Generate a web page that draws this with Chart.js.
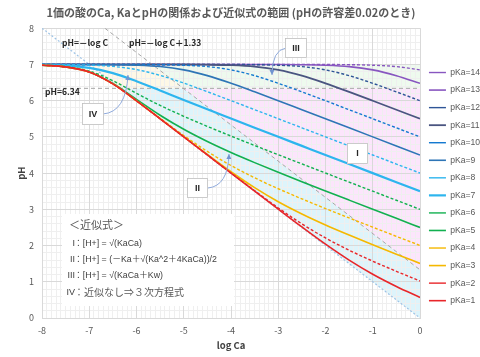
<!DOCTYPE html>
<html><head><meta charset="utf-8">
<script src="https://cdn.jsdelivr.net/npm/chart.js@4.4.1/dist/chart.umd.min.js"></script>
<style>html,body{margin:0;padding:0;background:#fff;}#wrap{width:480px;height:357px;position:relative;}</style>
</head><body><div id="wrap"><canvas id="c"></canvas></div>
<script>
// ---- data ----
const logCa = [-8,-7.5,-7,-6.5,-6,-5.5,-5,-4.5,-4,-3.5,-3,-2.5,-2,-1.5,-1,-0.5,0];
const pKa1  = [6.978,6.932,6.791,6.462,5.996,5.499,5.000,4.500,4.000,3.501,3.004,2.513,2.038,1.598,1.209,0.871,0.568];
const pKa2  = [6.978,6.932,6.791,6.462,5.996,5.500,5.000,4.501,4.004,3.513,3.038,2.598,2.209,1.871,1.568,1.289,1.022];
const pKa3  = [6.978,6.932,6.791,6.462,5.996,5.501,5.004,4.513,4.038,3.598,3.209,2.871,2.568,2.289,2.022,1.762,1.507];
const pKa4  = [6.978,6.932,6.791,6.463,6.000,5.512,5.038,4.598,4.209,3.871,3.568,3.289,3.022,2.762,2.507,2.254,2.002];
const pKa5  = [6.978,6.932,6.794,6.474,6.033,5.597,5.209,4.871,4.568,4.289,4.022,3.762,3.507,3.254,3.002,2.751,2.499];
const pKa6  = [6.980,6.939,6.817,6.550,6.201,5.869,5.568,5.289,5.022,4.762,4.507,4.254,4.002,3.751,3.500,3.250,3.000];
const pKa7  = [6.989,6.967,6.904,6.761,6.537,6.280,6.019,5.761,5.507,5.254,5.002,4.751,4.500,4.250,4.000,3.750,3.500];
const pKa8  = [6.998,6.994,6.981,6.945,6.857,6.698,6.485,6.247,6.000,5.751,5.501,5.250,5.000,4.750,4.500,4.250,4.000];
const pKa9  = [7.000,6.999,6.998,6.993,6.979,6.941,6.850,6.691,6.480,6.244,6.000,5.749,5.500,5.250,5.000,4.750,4.500];
const pKa10 = [7.000,7.000,7.000,6.999,6.998,6.993,6.979,6.940,6.849,6.690,6.479,6.243,5.998,5.749,5.500,5.250,5.000];
const pKa11 = [7.000,7.000,7.000,7.000,7.000,6.999,6.998,6.993,6.979,6.940,6.849,6.690,6.479,6.243,5.998,5.749,5.500];
const pKa12 = [7.000,7.000,7.000,7.000,7.000,7.000,7.000,6.999,6.998,6.993,6.979,6.940,6.849,6.690,6.479,6.243,5.998];
const pKa13 = [7.000,7.000,7.000,7.000,7.000,7.000,7.000,7.000,7.000,6.999,6.998,6.993,6.979,6.940,6.849,6.690,6.479];
const pKa14 = [7.000,7.000,7.000,7.000,7.000,7.000,7.000,7.000,7.000,7.000,7.000,6.999,6.998,6.993,6.979,6.940,6.849];
const seriesLabels = ['pKa=1','pKa=2','pKa=3','pKa=4','pKa=5','pKa=6','pKa=7','pKa=8','pKa=9','pKa=10','pKa=11','pKa=12','pKa=13','pKa=14'];
const seriesValues = [pKa1,pKa2,pKa3,pKa4,pKa5,pKa6,pKa7,pKa8,pKa9,pKa10,pKa11,pKa12,pKa13,pKa14];

// reference lines
const lineNegLogC_x = [-8, 0];     const lineNegLogC_y = [8, 0];
const lineShift_x   = [-6.67, 0];  const lineShift_y   = [8, 1.33];
const lineWater_x   = [-8, 0];     const lineWater_y   = [6.34, 6.34];

// region vertices (logCa, pH)
const regionI_x   = [-5.01, 0, 0];              const regionI_y   = [6.34, 6.34, 1.33];
const regionII_x  = [-6.34, -5.01, 0, 0];       const regionII_y  = [6.34, 6.34, 1.33, 0];
const regionIII_x = [-5.67, 0, 0, -5.01];       const regionIII_y = [7, 7, 6.34, 6.34];
const regionIV_x  = [-7, -5.67, -5.01, -6.34];  const regionIV_y  = [7, 7, 6.34, 6.34];

const xTicks = [-8,-7,-6,-5,-4,-3,-2,-1,0];
const yTicks = [0,1,2,3,4,5,6,7,8];

// ---- styles ----
const FONT = '"Noto Sans CJK JP", "Noto Sans", sans-serif';
const LFONT = '"Liberation Sans", "Noto Sans CJK JP", sans-serif';
const colors = ['#E8262A','#E8262A','#F5B800','#F5B800','#12B050','#12B050','#2DB5EE','#2DB5EE','#2E75B6','#1479D0','#4A5580','#2F5597','#8856C0','#8856C0'];
const dashed = [false,true,false,true,false,true,false,true,false,true,false,true,false,true];
const widths = [1.6,1.4,1.6,1.4,1.6,1.4,2.2,1.4,1.6,1.4,1.8,1.4,1.6,1.4];

Chart.defaults.font.family = FONT;

const datasets = seriesValues.map((vals, i) => ({
  label: seriesLabels[i],
  data: logCa.map((x, j) => ({x: x, y: vals[j]})),
  borderColor: colors[i], backgroundColor: colors[i],
  borderWidth: widths[i], borderDash: dashed[i] ? [3, 2] : [],
  pointRadius: 0, pointHoverRadius: 0, fill: false,
  cubicInterpolationMode: 'monotone'
}));
function refSet(xs, ys, color, w, dash) {
  return {label: '', data: xs.map((x, j) => ({x: x, y: ys[j]})), borderColor: color, backgroundColor: color,
    borderWidth: w, borderDash: dash, pointRadius: 0, fill: false, tension: 0};
}
datasets.push(refSet(lineNegLogC_x, lineNegLogC_y, '#9DC3E6', 1.2, [2, 2]));
datasets.push(refSet(lineShift_x, lineShift_y, '#A6A6A6', 1, [4, 3]));
datasets.push(refSet(lineWater_x, lineWater_y, '#A6A6A6', 1, [4, 3]));

const regions = [
  {xs: regionII_x,  ys: regionII_y,  color: '#DDF4FB'},
  {xs: regionI_x,   ys: regionI_y,   color: '#FCE5FC'},
  {xs: regionIII_x, ys: regionIII_y, color: '#EEFAEE'},
  {xs: regionIV_x,  ys: regionIV_y,  color: '#FEF8E6'}
];

const regionPlugin = {
  id: 'regions',
  beforeDraw(chart) {
    const {ctx, chartArea: a, scales: {x, y}} = chart;
    ctx.save();
    ctx.beginPath(); ctx.rect(a.left, a.top, a.right - a.left, a.bottom - a.top); ctx.clip();
    regions.forEach(r => {
      ctx.beginPath();
      r.xs.forEach((v, i) => {
        const px = x.getPixelForValue(v), py = y.getPixelForValue(r.ys[i]);
        if (i === 0) ctx.moveTo(px, py); else ctx.lineTo(px, py);
      });
      ctx.closePath(); ctx.fillStyle = r.color; ctx.fill();
    });
    ctx.restore();
  }
};

function arrow(ctx, x0, y0, cx, cy, x1, y1) {
  ctx.save();
  ctx.strokeStyle = '#8FAADC'; ctx.fillStyle = '#6F94D0'; ctx.lineWidth = 1;
  ctx.beginPath(); ctx.moveTo(x0, y0); ctx.quadraticCurveTo(cx, cy, x1, y1); ctx.stroke();
  const ang = Math.atan2(y1 - cy, x1 - cx), L = 5, W = 2.5;
  ctx.beginPath();
  ctx.moveTo(x1, y1);
  ctx.lineTo(x1 - L * Math.cos(ang) + W * Math.sin(ang), y1 - L * Math.sin(ang) - W * Math.cos(ang));
  ctx.lineTo(x1 - L * Math.cos(ang) - W * Math.sin(ang), y1 - L * Math.sin(ang) + W * Math.cos(ang));
  ctx.closePath(); ctx.fill();
  ctx.restore();
}
function callout(ctx, x0, y0, x1, y1, txt) {
  ctx.save();
  ctx.fillStyle = '#FFFFFF'; ctx.strokeStyle = '#BFBFBF'; ctx.lineWidth = 0.8;
  ctx.fillRect(x0, y0, x1 - x0, y1 - y0); ctx.strokeRect(x0 + 0.5, y0 + 0.5, x1 - x0 - 1, y1 - y0 - 1);
  ctx.fillStyle = '#262626'; ctx.font = 'bold 9px "Liberation Sans", sans-serif';
  ctx.textAlign = 'center'; ctx.textBaseline = 'middle';
  ctx.fillText(txt, (x0 + x1) / 2, (y0 + y1) / 2 + 0.5);
  ctx.restore();
}

const notePlugin = {
  id: 'notes',
  afterDraw(chart) {
    const ctx = chart.ctx;
    ctx.save();
    ctx.fillStyle = '#262626'; ctx.textBaseline = 'middle'; ctx.textAlign = 'left';
    ctx.font = 'bold 8.5px ' + FONT;
    ctx.fillText('pH=－log C', 62, 43);
    ctx.fillText('pH=－log C＋1.33', 129, 43);
    ctx.fillText('pH=6.34', 45, 92);
    // formula box
    ctx.fillStyle = '#FFFFFF';
    ctx.fillRect(62, 214, 172, 92);
    ctx.fillStyle = '#595959';
    ctx.font = '11px ' + FONT;
    ctx.fillText('＜近似式＞', 69, 224.5);
    const romans = ['I', 'II', 'III', 'IV'];
    const texts = ['：[H+] = √(KaCa)', '：[H+] = (－Ka＋√(Ka^2＋4KaCa))/2', '：[H+] = √(KaCa＋Kw)', '：近似なし⇒３次方程式'];
    const ys = [243.5, 259.5, 276, 292.5];
    romans.forEach((r, i) => {
      ctx.fillStyle = '#404040';
      ctx.textAlign = 'right'; ctx.font = '9px "Liberation Sans", sans-serif';
      ctx.fillText(r, 75, ys[i]);
      ctx.textAlign = 'left';
      ctx.font = (i === 3 ? '10px ' + FONT : '8.8px ' + LFONT);
      ctx.fillStyle = i === 3 ? '#595959' : '#404040';
      ctx.fillText(texts[i], 74, ys[i]);
    });
    ctx.restore();
    arrow(ctx, 286, 48, 272, 50, 272, 75);
    arrow(ctx, 103, 114, 126, 112, 128, 75);
    arrow(ctx, 208, 188, 228, 186, 229, 154);
    callout(ctx, 285, 38, 307, 58, 'III');
    callout(ctx, 82, 103, 104, 125, 'IV');
    callout(ctx, 187, 178, 208, 198, 'II');
    callout(ctx, 347, 143, 368, 164, 'I');
  }
};

new Chart(document.getElementById('c'), {
  type: 'line',
  data: {datasets: datasets},
  plugins: [regionPlugin, notePlugin],
  options: {
    responsive: true, maintainAspectRatio: false, animation: false,
    events: [],
    layout: {padding: 0},
    plugins: {
      tooltip: {enabled: false},
      title: {display: true, fullSize: false,
        text: '1価の酸のCa, KaとpHの関係および近似式の範囲 (pHの許容差0.02のとき)',
        color: '#595959', font: {size: 11, weight: 'bold', family: FONT}, padding: {top: 6, bottom: 9}},
      legend: {
        position: 'right', reverse: true, maxWidth: 60,
        title: {display: true, text: ' ', font: {size: 10}, padding: {top: 2.1, bottom: 2.1}},
        labels: {usePointStyle: true, pointStyle: 'line', pointStyleWidth: 17, padding: 8.95,
          color: '#595959', font: {size: 8.6, family: '"Liberation Sans", sans-serif'},
          filter: item => item.datasetIndex < 14}
      }
    },
    scales: {
      x: {type: 'linear', position: 'bottom', min: -8, max: 0,
        afterBuildTicks: s => { s.ticks = xTicks.map(v => ({value: v})); },
        ticks: {color: '#595959', font: {size: 9}, padding: 7, autoSkip: false},
        grid: {color: '#D9D9D9', drawTicks: false},
        border: {color: '#D9D9D9'},
        title: {display: true, text: 'log Ca', color: '#404040', font: {size: 9.5, weight: 'bold'}, padding: {top: 0, bottom: 6}},
        afterFit: s => { s.height = 39; }
      },
      xm: {type: 'linear', position: 'bottom', min: -8, max: 0,
        ticks: {display: false, stepSize: 0.1, autoSkip: false},
        grid: {color: '#EFEFEF', drawTicks: false, z: -2}, border: {display: false},
        afterFit: s => { s.height = 0; }
      },
      y: {type: 'linear', position: 'left', min: 0, max: 8,
        afterBuildTicks: s => { s.ticks = yTicks.map(v => ({value: v})); },
        ticks: {color: '#595959', font: {size: 9}, padding: 8, autoSkip: false},
        grid: {color: '#D9D9D9', drawTicks: false},
        border: {color: '#D9D9D9'},
        title: {display: true, text: 'pH', color: '#404040', font: {size: 9.5, weight: 'bold'}, padding: {top: 16, bottom: 0}},
        afterFit: s => { s.width = 42; }
      },
      ym: {type: 'linear', position: 'left', min: 0, max: 8,
        ticks: {display: false, stepSize: 0.2, autoSkip: false},
        grid: {color: '#EFEFEF', drawTicks: false, z: -2}, border: {display: false},
        afterFit: s => { s.width = 0; }
      }
    }
  }
});
</script></body></html>
